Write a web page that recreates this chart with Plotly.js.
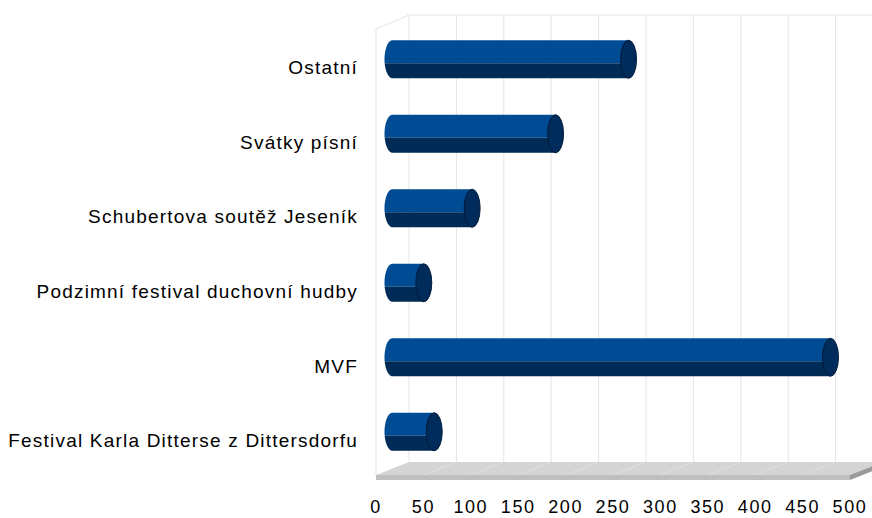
<!DOCTYPE html>
<html>
<head>
<meta charset="utf-8">
<script src="https://cdn.plot.ly/plotly-3.0.1.min.js"></script>
<style>
html,body{margin:0;padding:0;background:#fff;}
#chart{width:872px;height:518px;}
.ytick text{letter-spacing:1.2px;}
.xtick text{letter-spacing:1.6px;}
</style>
</head>
<body>
<div id="chart"></div>
<script>
// ---- data ----
const categories = [
  'Festival Karla Ditterse z Dittersdorfu',
  'MVF',
  'Podzimní festival duchovní hudby',
  'Schubertova soutěž Jeseník',
  'Svátky písní',
  'Ostatní'
];
const values = [44, 462, 33, 84, 172, 249];
const xTicks = [0, 50, 100, 150, 200, 250, 300, 350, 400, 450, 500];
const xTickLabels = ['0','50','100','150','200','250','300','350','400','450','500'];

// ---- geometry (pixels of the 872x518 canvas) ----
const W = 872, H = 518;
const px = x => x / W;
const py = y => 1 - y / H;
const FRONT_LEFT = 376, FRONT_RIGHT = 850;
const BACK_LEFT = 409;
const UNIT = (FRONT_RIGHT - FRONT_LEFT) / 500;
const FRONT_TOP = 29, FLOOR_FRONT = 475, FLOOR_BOTTOM = 480;
const BACK_TOP = 15, BACK_BOTTOM = 462;
const MID_LEFT = (FRONT_LEFT + BACK_LEFT) / 2;
const MID_PAD = 20;
const MID_TOP = 22, MID_BOTTOM = 469;
const LABEL_TOP = 30, LABEL_BOTTOM = 478;

const LIGHT = '#004c94', DARK = '#002b57', CAP = '#002c5c', CAP_LINE = '#001a3a';
const RX = 8, RY = 19, SPLIT = -4;
const catPx = (MID_BOTTOM - MID_TOP) / categories.length;

const frameColor = '#e4e4e4';
const shapes = [];
function poly(pts, fill, line) {
  const d = pts.map((p, i) => (i ? 'L' : 'M') + px(p[0]) + ',' + py(p[1])).join(' ') + ' Z';
  shapes.push({type:'path', xref:'paper', yref:'paper', path:d, fillcolor:fill,
    line:{width: line ? 1 : 0, color: line || fill}, layer:'below'});
}
function seg(x0, y0, x1, y1, color, w) {
  shapes.push({type:'line', xref:'paper', yref:'paper', x0:px(x0), y0:py(y0), x1:px(x1), y1:py(y1),
    line:{color:color, width:w || 1}, layer:'below'});
}
// back wall
seg(BACK_LEFT, BACK_TOP, W + 20, BACK_TOP, frameColor);
xTicks.forEach(t => seg(BACK_LEFT + t * UNIT, BACK_TOP, BACK_LEFT + t * UNIT, BACK_BOTTOM, frameColor));
// left wall
seg(FRONT_LEFT, FRONT_TOP, BACK_LEFT, BACK_TOP, frameColor);
seg(FRONT_LEFT, FRONT_TOP, FRONT_LEFT, FLOOR_FRONT, frameColor);
// floor
const backRight = BACK_LEFT + 500 * UNIT;
poly([[BACK_LEFT, BACK_BOTTOM], [backRight, BACK_BOTTOM], [FRONT_RIGHT, FLOOR_FRONT], [FRONT_LEFT, FLOOR_FRONT]], '#d4d4d4');
poly([[FRONT_LEFT, FLOOR_FRONT], [FRONT_RIGHT, FLOOR_FRONT], [FRONT_RIGHT, FLOOR_BOTTOM], [FRONT_LEFT, FLOOR_BOTTOM]], '#bfbfbf');
poly([[FRONT_RIGHT, FLOOR_FRONT], [backRight, BACK_BOTTOM], [backRight, BACK_BOTTOM + 5], [FRONT_RIGHT, FLOOR_BOTTOM]], '#9a9a9a');
xTicks.slice(1, -1).forEach(t =>
  seg(BACK_LEFT + t * UNIT, BACK_BOTTOM, FRONT_LEFT + t * UNIT, FLOOR_FRONT, '#e2e2e2', 0.8));

// cylinder end caps
function arcPts(a0, a1, n) {
  const pts = [];
  for (let i = 0; i <= n; i++) {
    const a = a0 + (a1 - a0) * i / n;
    pts.push([RX * Math.cos(a), RY * Math.sin(a)]);
  }
  return pts;
}
const aSplit = Math.PI + Math.asin(-SPLIT / RY);
const upperLeft = arcPts(Math.PI / 2, aSplit, 24).concat([[0.5, SPLIT], [0.5, RY]]);
const lowerLeft = arcPts(aSplit, 1.5 * Math.PI, 24).concat([[0.5, -RY], [0.5, SPLIT]]);
const pathStr = pts => pts.map((p, i) => (i ? 'L' : 'M') + p[0].toFixed(2) + ',' + p[1].toFixed(2)).join(' ') + ' Z';

categories.forEach((c, i) => {
  const common = {xref:'x2', yref:'y2', xsizemode:'pixel', ysizemode:'pixel', yanchor:c, layer:'above'};
  shapes.push(Object.assign({type:'path', xanchor:0, path:pathStr(upperLeft), fillcolor:LIGHT, line:{width:0}}, common));
  shapes.push(Object.assign({type:'path', xanchor:0, path:pathStr(lowerLeft), fillcolor:DARK, line:{width:0}}, common));
  shapes.push(Object.assign({type:'circle', xanchor:values[i], x0:-RX, x1:RX, y0:-RY, y1:RY,
    fillcolor:CAP, line:{width:1, color:CAP_LINE}}, common));
});

// bar bodies split in light upper and dark lower part
const halfW = RY / catPx, splitW = SPLIT / catPx;
const traces = [
  {type:'bar', orientation:'h', x:values, y:categories, xaxis:'x2', yaxis:'y2',
   base:0, width:halfW - splitW, offset:splitW, marker:{color:LIGHT, line:{width:0}}, hoverinfo:'skip'},
  {type:'bar', orientation:'h', x:values, y:categories, xaxis:'x2', yaxis:'y2',
   base:0, width:splitW + halfW, offset:-halfW, marker:{color:DARK, line:{width:0}}, hoverinfo:'skip'},
  // invisible trace carrying the front axes (tick labels)
  {type:'scatter', mode:'markers', x:values, y:categories, xaxis:'x', yaxis:'y',
   marker:{opacity:0}, hoverinfo:'skip'}
];

const fam = '"Liberation Sans", Arial, sans-serif';
const layout = {
  width:W, height:H,
  margin:{l:0, r:0, t:0, b:0, pad:0},
  paper_bgcolor:'#fff', plot_bgcolor:'rgba(0,0,0,0)',
  showlegend:false,
  barmode:'overlay',
  font:{family:fam, size:18, color:'#000'},
  xaxis:{domain:[px(FRONT_LEFT), px(FRONT_RIGHT)], range:[0, 500], anchor:'y',
    tickmode:'array', tickvals:xTicks, ticktext:xTickLabels, showgrid:false, zeroline:false,
    showline:false, ticks:'', ticklabelstandoff:16, tickfont:{family:fam, size:18, color:'#000'}},
  yaxis:{domain:[py(LABEL_BOTTOM), py(LABEL_TOP)], type:'category', categoryorder:'array',
    categoryarray:categories, range:[-0.5, categories.length - 0.5], anchor:'x',
    showgrid:false, zeroline:false, showline:false, ticks:'', ticklabelstandoff:17,
    tickfont:{family:fam, size:19, color:'#000'}},
  xaxis2:{domain:[px(MID_LEFT - MID_PAD), 1], range:[-MID_PAD / UNIT, (W - MID_LEFT) / UNIT],
    anchor:'y2', visible:false},
  yaxis2:{domain:[py(MID_BOTTOM), py(MID_TOP)], type:'category', categoryorder:'array',
    categoryarray:categories, range:[-0.5, categories.length - 0.5], anchor:'x2', visible:false},
  shapes:shapes
};

Plotly.newPlot('chart', traces, layout, {staticPlot:true, displayModeBar:false});
</script>
</body>
</html>
